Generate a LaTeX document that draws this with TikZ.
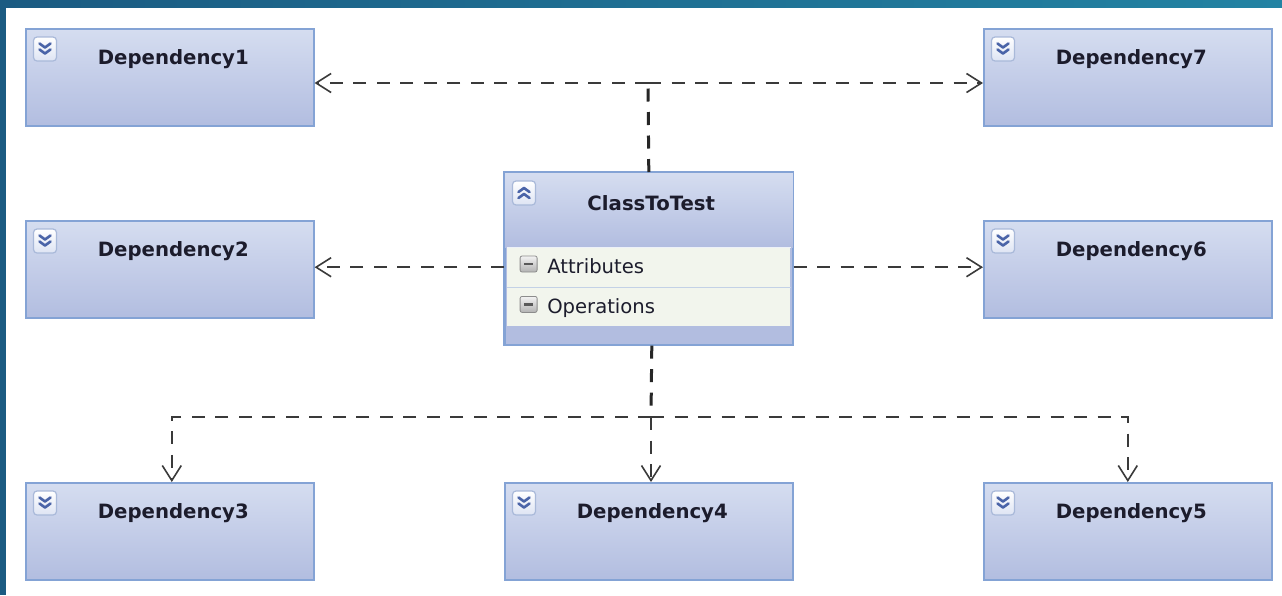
\documentclass[tikz,border=0pt]{standalone}
\usepackage{fontspec}
\setmainfont{DejaVu Sans}
\usetikzlibrary{arrows.meta}
\definecolor{frameblue}{HTML}{1B5B82}
\definecolor{frameteal}{HTML}{2383A3}
\definecolor{boxtop}{HTML}{D5DDF0}
\definecolor{boxbot}{HTML}{B2BDE0}
\definecolor{boxborder}{HTML}{84A3D5}
\definecolor{comp}{HTML}{F2F5ED}
\definecolor{sepline}{HTML}{C3D1E6}
\definecolor{chevcol}{HTML}{4A64A8}
\definecolor{iconborder}{HTML}{A9B9D9}
\definecolor{txt}{HTML}{1C1C2C}
\definecolor{linecol}{HTML}{3A3A3A}
\tikzset{
  x=1pt, y=-1pt,
  depbox/.style={draw=boxborder, line width=1.6pt, top color=boxtop, bottom color=boxbot,
    minimum width=288pt, minimum height=97pt, anchor=north west, inner sep=0pt},
  title/.style={font=\fontsize{19.7}{24}\selectfont\bfseries, text=txt, anchor=base, inner sep=0pt},
  rowtext/.style={font=\fontsize{19.6}{24}\selectfont, text=txt, anchor=base west, inner sep=0pt},
  dep/.style={draw=linecol, line width=1.8pt, dash pattern=on 13pt off 10.5pt},
  depthick/.style={draw=black!85, line width=3pt, dash pattern=on 13pt off 10.5pt},
  tip/.style={-{Straight Barb[length=15pt,width=19pt,line width=1.6pt]}},
  chevline/.style={chevcol, line width=2.6pt, line cap=round, line join=round},
  chevdown/.pic={
    \draw[rounded corners=3.5pt, draw=iconborder, line width=1.2pt, top color=white, bottom color=boxtop!80] (0,0) rectangle (23,24);
    \draw[chevline] (6,6.5) -- (11.5,10.5) -- (17,6.5);
    \draw[chevline] (6,12.5) -- (11.5,16.5) -- (17,12.5);
  },
  chevup/.pic={
    \draw[rounded corners=3.5pt, draw=iconborder, line width=1.2pt, top color=white, bottom color=boxtop!80] (0,0) rectangle (23,24);
    \draw[chevline] (6,11) -- (11.5,7) -- (17,11);
    \draw[chevline] (6,17) -- (11.5,13) -- (17,17);
  },
  minusicon/.pic={
    \draw[rounded corners=2pt, draw=black!45, line width=0.8pt, top color=black!5, bottom color=black!30] (0,0) rectangle (17,16);
    \draw[black!65, line width=2.4pt] (4,8) -- (13,8);
  }
}
\begin{document}
\begin{tikzpicture}
\useasboundingbox (0,0) rectangle (1282,595);
\fill[white] (0,0) rectangle (1282,595);
% frame
\shade[left color=frameblue, right color=frameteal] (0,0) rectangle (1282,7);
\fill[frameblue] (0,0) rectangle (6,595);

% dependency boxes
\node[depbox] (d1) at (25,28) {};
\node[depbox] (d7) at (983,28) {};
\node[depbox] (d2) at (25,220) {};
\node[depbox] (d6) at (983,220) {};
\node[depbox] (d3) at (25,482) {};
\node[depbox] (d4) at (504,482) {};
\node[depbox] (d5) at (983,482) {};

\foreach \n/\lbl in {d1/Dependency1,d7/Dependency7,d2/Dependency2,d6/Dependency6,d3/Dependency3,d4/Dependency4,d5/Dependency5}{
  \node[title] (\n t) at ([xshift=3.5pt,yshift=-36.5pt]\n.north) {\lbl};
  \pic at ([xshift=8.5pt,yshift=-9pt]\n.north west) {chevdown};
}

% class box
\node[draw=boxborder, line width=1.6pt, fill=boxbot, minimum width=288pt, minimum height=172pt,
      anchor=north west, inner sep=0pt] (cls) at (504,172) {};
\shade[top color=boxtop, bottom color=boxbot] ([xshift=0.8pt,yshift=-0.8pt]cls.north west) rectangle ([xshift=-0.8pt,yshift=-75pt]cls.north east);
\node[fill=comp, minimum width=283pt, minimum height=40pt, anchor=north, inner sep=0pt] (attr) at ([yshift=-75pt]cls.north) {};
\node[fill=comp, minimum width=283pt, minimum height=38pt, anchor=north, inner sep=0pt] (ops) at (attr.south) {};
\draw[sepline, line width=1.2pt] (attr.south west) -- (attr.south east);
\draw[white!70!sepline, line width=1pt] (attr.north west) -- (attr.north east);
\draw[boxborder, line width=1.6pt] (cls.north west) rectangle (cls.south east);
\node[title] (clst) at ([xshift=2.5pt,yshift=-38pt]cls.north) {ClassToTest};
\pic at ([xshift=8.5pt,yshift=-9pt]cls.north west) {chevup};
\pic at ([xshift=13pt,yshift=-9pt]attr.north west) {minusicon};
\pic at ([xshift=13pt,yshift=-9pt]ops.north west) {minusicon};
\node[rowtext] (attrt) at ([xshift=40pt,yshift=-26pt]attr.north west) {Attributes};
\node[rowtext] (opst) at ([xshift=40pt,yshift=-26pt]ops.north west) {Operations};

% connectors
\coordinate (jt) at (648,83);
\coordinate (jb) at (651,417);
\draw[depthick] (cls.north) -- (jt);
\draw[dep, tip] (jt) -- (jt -| d1.east);
\draw[dep, tip] (jt) -- (jt -| d7.west);
\draw[dep, tip] (cls.west |- attr) -- (d2.east |- attr);
\draw[dep, tip] (cls.east |- attr) -- (d6.west |- attr);
\draw[depthick] ([xshift=3pt]cls.south) -- (jb);
\draw[dep, tip] (jb) -- (jb |- d4.north);
\draw[dep, tip] (jb) -| ([xshift=2pt]d3.north);
\draw[dep, tip] (jb) -| (d5.north);
\end{tikzpicture}
\end{document}
